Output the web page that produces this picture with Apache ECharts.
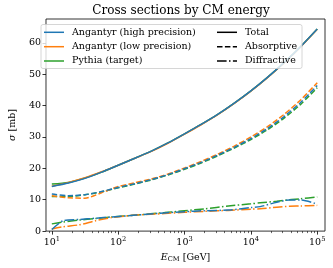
<!DOCTYPE html>
<html>
<head>
<meta charset="utf-8">
<script src="https://cdn.jsdelivr.net/npm/echarts@6/dist/echarts.min.js"></script>
<style>html,body{margin:0;padding:0;background:#fff}#c{width:333px;height:268px}</style>
</head>
<body>
<div id="c"></div>
<script>
// ---- data (energies in GeV, cross sections in mb) ----
const titleText = 'Cross sections by CM energy';
const xTickExponents = [1, 2, 3, 4, 5];
const yTickValues = [0, 10, 20, 30, 40, 50, 60];
const seriesNames = ['Angantyr (high precision)', 'Angantyr (low precision)', 'Pythia (target)'];
const kindNames = ['Total', 'Absorptive', 'Diffractive'];

const energySmooth = [10, 17.8, 31.6, 56.2, 100, 178, 316, 562, 1000, 1778, 3162, 5623, 10000, 17783, 31623, 56234, 100000];
const totalHigh   = [14.2, 15.3, 16.8, 18.8, 21.0, 23.2, 25.5, 28.1, 31.0, 34.0, 37.2, 40.8, 44.7, 49.0, 53.7, 58.8, 64.4];
const totalLow    = [14.3, 15.5, 17.0, 18.9, 21.0, 23.2, 25.4, 28.0, 30.9, 33.9, 37.1, 40.7, 44.6, 48.9, 53.6, 58.7, 64.3];
const totalTarget = [15.0, 15.5, 16.9, 18.8, 21.0, 23.2, 25.5, 28.1, 31.0, 34.0, 37.2, 40.8, 44.7, 49.0, 53.7, 58.8, 64.4];

const absHigh   = [11.8, 11.3, 11.6, 12.6, 13.9, 15.1, 16.4, 18.0, 19.9, 21.9, 24.2, 26.7, 29.5, 32.7, 36.5, 41.0, 46.4];
const absLow    = [11.3, 10.6, 10.5, 12.2, 14.2, 15.4, 16.6, 18.2, 20.1, 22.2, 24.5, 27.1, 30.0, 33.3, 37.2, 41.8, 47.3];
const absTarget = [11.0, 11.0, 11.6, 12.5, 13.8, 15.0, 16.3, 17.9, 19.7, 21.7, 24.0, 26.5, 29.2, 32.3, 36.0, 40.4, 45.7];

const energyDiff = [10, 14.8, 25.7, 45.7, 79.4, 186, 501, 1000, 1995, 4571, 10000, 13804, 24547, 38019, 56234, 100000];
const diffHigh   = [0.5, 3.3, 3.7, 4.1, 4.5, 5.1, 5.8, 6.2, 6.5, 6.7, 7.5, 7.8, 9.2, 9.9, 9.9, 8.6];
const diffLow    = [0.7, 1.4, 2.0, 3.3, 4.3, 5.1, 5.6, 6.0, 6.3, 6.6, 7.0, 7.1, 7.6, 7.9, 8.0, 8.2];
const diffTarget = [2.3, 2.9, 3.5, 4.0, 4.5, 5.1, 5.9, 6.5, 7.1, 8.0, 8.7, 9.0, 9.5, 10.0, 10.3, 10.9];

// ---- styling ----
const FONT = 'DejaVu Serif';
const colors = ['#1f77b4', '#ff7f0e', '#2ca02c'];
const dashTypes = ['solid', [5.5, 2.4], [9.6, 2.4, 1.5, 2.4]];
const X_MIN = 0.912, X_MAX = 5.117, Y_MIN = 0, Y_MAX = 67.6;

const minorTicks = [];
for (let d = 0; d <= 4; d++) for (let k = 2; k <= 9; k++) {
  const v = Math.log10(k * Math.pow(10, d));
  if (v > X_MIN && v < X_MAX) minorTicks.push(v);
}

function pts(E, S) { return E.map((e, i) => [Math.log10(e), S[i]]); }

const groups = [
  [energySmooth, [totalHigh, totalLow, totalTarget], 0],
  [energySmooth, [absHigh, absLow, absTarget], 1],
  [energyDiff, [diffHigh, diffLow, diffTarget], 2]
];
const series = [];
groups.forEach(([E, arrs, kind]) => {
  [2, 1, 0].forEach(si => {
    series.push({
      type: 'line', name: seriesNames[si] + ' ' + kindNames[kind],
      data: pts(E, arrs[si]), showSymbol: false, smooth: 0.25, silent: true,
      xAxisIndex: 0, yAxisIndex: 0,
      lineStyle: { color: colors[si], width: 1.5, type: dashTypes[kind], cap: 'butt' },
      z: 5 - si
    });
  });
});

// legend via graphic
const legendEls = [];
legendEls.push({ type: 'rect', shape: { x: 41, y: 24.5, width: 261, height: 44, r: 2 },
  style: { fill: 'rgba(255,255,255,0.8)', stroke: '#cccccc', lineWidth: 0.8 }, z: 10 });
const rowY = [32.3, 46.7, 61];
seriesNames.forEach((n, i) => {
  legendEls.push({ type: 'line', shape: { x1: 44, y1: rowY[i], x2: 64, y2: rowY[i] },
    style: { stroke: colors[i], lineWidth: 1.5 }, z: 11 });
  legendEls.push({ type: 'text', x: 72, y: rowY[i], style: { text: n, font: '9.5px "' + FONT + '"', fill: '#000', verticalAlign: 'middle' }, z: 11 });
});
kindNames.forEach((n, i) => {
  legendEls.push({ type: 'line', shape: { x1: 217, y1: rowY[i], x2: 237, y2: rowY[i] },
    style: { stroke: '#000', lineWidth: 1.5, lineDash: dashTypes[i] === 'solid' ? null : dashTypes[i] }, z: 11 });
  legendEls.push({ type: 'text', x: 245, y: rowY[i], style: { text: n, font: '9.5px "' + FONT + '"', fill: '#000', verticalAlign: 'middle' }, z: 11 });
});
// title centred over the plot area
legendEls.push({ type: 'text', x: 181, y: 11, style: { text: titleText, font: '12px "' + FONT + '"', fill: '#000', align: 'center', verticalAlign: 'middle' }, z: 11 });

const chart = echarts.init(document.getElementById('c'), null, { renderer: 'canvas' });
chart.setOption({
  animation: false,
  backgroundColor: '#fff',
  grid: { left: 37, right: 8, top: 19, bottom: 35, show: true, borderColor: '#000', borderWidth: 0.8, backgroundColor: 'transparent' },
  xAxis: [{
    type: 'value', min: X_MIN, max: X_MAX, position: 'bottom',
    axisLine: { show: false }, splitLine: { show: false },
    axisTick: { show: true, customValues: xTickExponents, length: 3.5, lineStyle: { color: '#000', width: 0.8 } },
    axisLabel: { customValues: xTickExponents, margin: 5, color: '#000', fontFamily: FONT, fontSize: 9.5,
      formatter: v => '10{sup|' + Math.round(v) + '}',
      rich: { sup: { fontSize: 6.7, fontFamily: FONT, color: '#000', padding: [0, 0, 6, 0] } } },
    name: '{i|E}{sub|CM} [GeV]', nameLocation: 'middle', nameGap: 16,
    nameTextStyle: { color: '#000', fontFamily: FONT, fontSize: 9.5,
      rich: { i: { fontStyle: 'italic', fontFamily: FONT, fontSize: 9.5, color: '#000' },
              sub: { fontFamily: FONT, fontSize: 6.7, color: '#000', padding: [4, 0, 0, 0] } } }
  }, {
    type: 'value', min: X_MIN, max: X_MAX, position: 'bottom',
    axisLine: { show: false }, splitLine: { show: false },
    axisTick: { show: true, customValues: minorTicks, length: 2, lineStyle: { color: '#000', width: 0.6 } },
    axisLabel: { show: false }
  }],
  yAxis: [{
    type: 'value', min: Y_MIN, max: Y_MAX,
    axisLine: { show: false }, splitLine: { show: false },
    axisTick: { show: true, customValues: yTickValues, length: 3.5, lineStyle: { color: '#000', width: 0.8 } },
    axisLabel: { customValues: yTickValues, margin: 5, color: '#000', fontFamily: FONT, fontSize: 9.5 },
    name: '{i|σ} [mb]', nameLocation: 'middle', nameGap: 25, nameRotate: 90,
    nameTextStyle: { color: '#000', fontFamily: FONT, fontSize: 9.5,
      rich: { i: { fontStyle: 'italic', fontFamily: FONT, fontSize: 9.5, color: '#000' } } }
  }],
  series: series,
  graphic: legendEls
});
</script>
</body>
</html>
